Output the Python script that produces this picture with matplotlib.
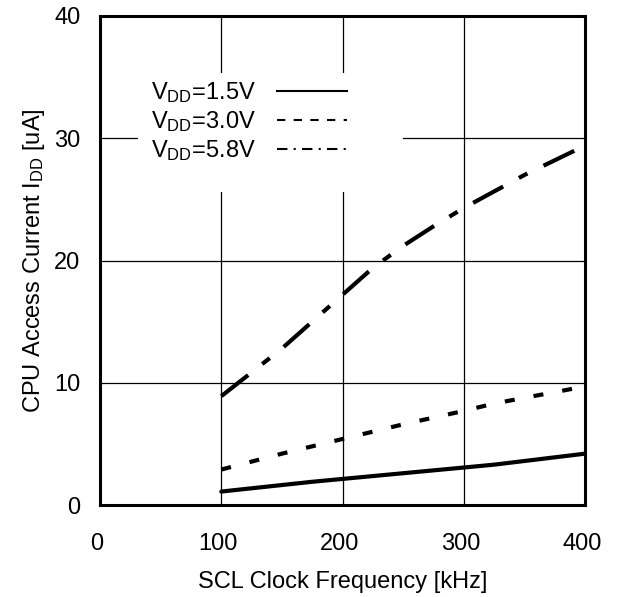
import numpy as np
import matplotlib
matplotlib.use("Agg")
import matplotlib.pyplot as plt
import matplotlib.transforms as mtransforms
from matplotlib.lines import Line2D
from matplotlib.patches import Rectangle

plt.rcParams['font.family'] = ['Liberation Sans', 'DejaVu Sans']
plt.rcParams['mathtext.fontset'] = 'custom'
plt.rcParams['mathtext.rm'] = 'Liberation Sans'

# Data
freq_15 = [100, 175, 250, 325, 400]
idd_15 = [1.1, 1.9, 2.6, 3.3, 4.2]

freq_30 = [100, 150, 200, 250, 300, 325, 400]
idd_30 = [2.9, 4.2, 5.4, 6.6, 7.7, 8.3, 9.7]

freq_58 = [100, 150, 200, 225, 250, 275, 300, 350, 400]
idd_58 = [8.9, 12.8, 17.2, 19.4, 21.2, 22.8, 24.3, 27.0, 29.4]

labels = [r'$\mathregular{V_{DD}}$=1.5V',
          r'$\mathregular{V_{DD}}$=3.0V',
          r'$\mathregular{V_{DD}}$=5.8V']

x_ticks = [0, 100, 200, 300, 400]
y_ticks = [0, 10, 20, 30, 40]

FS = 17

fig = plt.figure(figsize=(6.18, 5.97), dpi=100)
ax = fig.add_axes([0.1618, 0.1541, 0.785, 0.8191])

lw = 3.0
ax.plot(freq_15, idd_15, color='black', lw=lw, solid_capstyle='round', zorder=3)
ax.plot(freq_30, idd_30, color='black', lw=lw, linestyle=(0, (2.4, 4.6)),
        dash_capstyle='butt', zorder=3)
ax.plot(freq_58, idd_58, color='black', lw=lw, linestyle=(0, (8.2, 4.3, 2.3, 4.3)),
        dash_capstyle='butt', zorder=3)

ax.set_xlim(0, 400)
ax.set_ylim(0, 40)
ax.set_xticks(x_ticks)
ax.set_yticks(y_ticks)
ax.tick_params(length=0, labelsize=FS)
ax.tick_params(axis='x', pad=20)
ax.tick_params(axis='y', pad=14)
ax.grid(True, color='black', lw=0.9, zorder=1)
for s in ax.spines.values():
    s.set_linewidth(2.2)

# x tick labels sit a little left of their grid lines in the original
shift = mtransforms.ScaledTranslation(-3 / 100, 0, fig.dpi_scale_trans)
for lab in ax.get_xticklabels():
    lab.set_transform(lab.get_transform() + shift)

ax.set_xlabel('SCL Clock Frequency [kHz]', fontsize=FS, labelpad=12)
ax.set_ylabel(r'CPU Access Current I$\mathregular{_{DD}}$ [uA]', fontsize=FS, labelpad=5)

# white area behind the legend
ax.add_patch(Rectangle((0.078, 0.640), 0.547, 0.243, transform=ax.transAxes,
                       facecolor='white', edgecolor='none', zorder=2))

handles = [Line2D([], [], color='black', lw=1.5),
           Line2D([], [], color='black', lw=1.5, linestyle=(0, (4, 4))),
           Line2D([], [], color='black', lw=1.5, linestyle=(0, (5, 3, 1, 3)))]
leg = ax.legend(handles, labels, loc='upper left', bbox_to_anchor=(0.106, 0.868),
                frameon=False, markerfirst=False, fontsize=FS, handlelength=2.96,
                handletextpad=0.9, labelspacing=0.16, borderpad=0, borderaxespad=0)
leg.set_zorder(4)

fig.savefig('out.png', dpi=100)
